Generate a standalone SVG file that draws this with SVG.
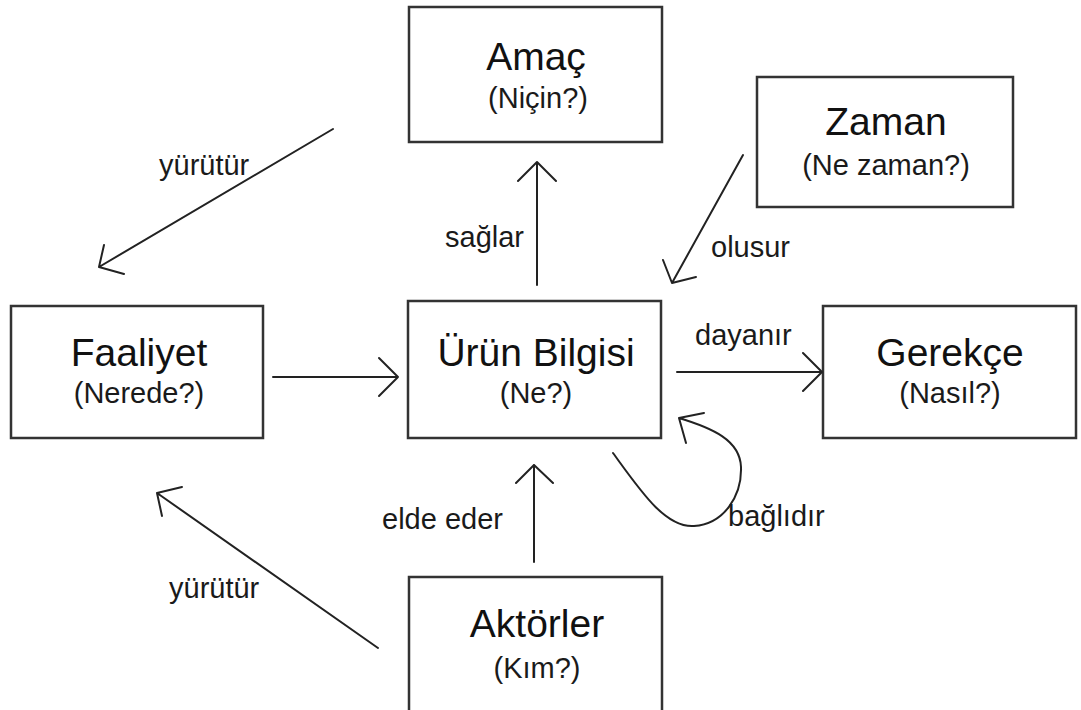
<svg xmlns="http://www.w3.org/2000/svg" width="1081" height="710" viewBox="0 0 1081 710">
  <style>
    .box { fill: #ffffff; stroke: #333333; stroke-width: 2.5; }
    .title { font-family: "Liberation Sans", Arial, sans-serif; font-size: 39px; fill: #111111; text-anchor: middle; }
    .sub { font-family: "Liberation Sans", Arial, sans-serif; font-size: 29px; fill: #1a1a1a; text-anchor: middle; }
    .lbl { font-family: "Liberation Sans", Arial, sans-serif; font-size: 29px; fill: #1a1a1a; }
    .edge { fill: none; stroke: #222222; stroke-width: 2; stroke-linecap: round; stroke-linejoin: round; }
  </style>
  <rect width="1081" height="710" fill="#ffffff"/>

  <g id="amac">
    <rect class="box" x="409" y="7" width="253" height="135"/>
    <text class="title" x="536" y="70">Amaç</text>
    <text class="sub" x="538" y="108">(Niçin?)</text>
  </g>

  <g id="zaman">
    <rect class="box" x="757" y="77" width="256" height="130"/>
    <text class="title" x="886" y="135">Zaman</text>
    <text class="sub" x="886" y="175">(Ne zaman?)</text>
  </g>

  <g id="faaliyet">
    <rect class="box" x="11" y="306" width="252" height="132"/>
    <text class="title" x="139" y="366">Faaliyet</text>
    <text class="sub" x="139" y="403">(Nerede?)</text>
  </g>

  <g id="urun-bilgisi">
    <rect class="box" x="408" y="301" width="253" height="137"/>
    <text class="title" x="536" y="366">Ürün Bilgisi</text>
    <text class="sub" x="536" y="403">(Ne?)</text>
  </g>

  <g id="gerekce">
    <rect class="box" x="823" y="306" width="253" height="132"/>
    <text class="title" x="950" y="366">Gerekçe</text>
    <text class="sub" x="950" y="403">(Nasıl?)</text>
  </g>

  <g id="aktorler">
    <rect class="box" x="409" y="577" width="253" height="145"/>
    <text class="title" x="537" y="637">Aktörler</text>
    <text class="sub" x="537" y="678">(Kım?)</text>
  </g>

  <g id="connectors">
    <!-- Ürün Bilgisi -> Amaç -->
    <path class="edge" d="M537,285 L537,162 M518,181 L537,162 L556,181"/>
    <text class="lbl" x="445" y="247">sağlar</text>

    <!-- Zaman -> Ürün Bilgisi -->
    <path class="edge" d="M743,155 L672,283 M663,260 L672,283 L696,277"/>
    <text class="lbl" x="711" y="257">olusur</text>

    <!-- Amaç -> Faaliyet -->
    <path class="edge" d="M333,129 L99,267 M104,245 L99,267 L124,274"/>
    <text class="lbl" x="159" y="175">yürütür</text>

    <!-- Faaliyet -> Ürün Bilgisi -->
    <path class="edge" d="M273,377 L398,377 M379,358 L398,377 L379,396"/>

    <!-- Ürün Bilgisi -> Gerekçe -->
    <path class="edge" d="M677,372 L822,372 M803,353 L822,372 L803,391"/>
    <text class="lbl" x="695" y="345">dayanır</text>

    <!-- Ürün Bilgisi self loop -->
    <path class="edge" d="M613,453 C640,490 665,528 694,526 C724,524 742,496 741,467 C740,440 712,428 679,418 M704,413 L679,418 L686,443"/>
    <text class="lbl" x="728" y="526">bağlıdır</text>

    <!-- Aktörler -> Ürün Bilgisi -->
    <path class="edge" d="M534,562 L534,465 M516,483 L534,465 L553,483"/>
    <text class="lbl" x="382" y="529">elde eder</text>

    <!-- Aktörler -> Faaliyet -->
    <path class="edge" d="M378,648 L157,493 M182,487 L157,493 L162,516"/>
    <text class="lbl" x="169" y="598">yürütür</text>
  </g>
</svg>
